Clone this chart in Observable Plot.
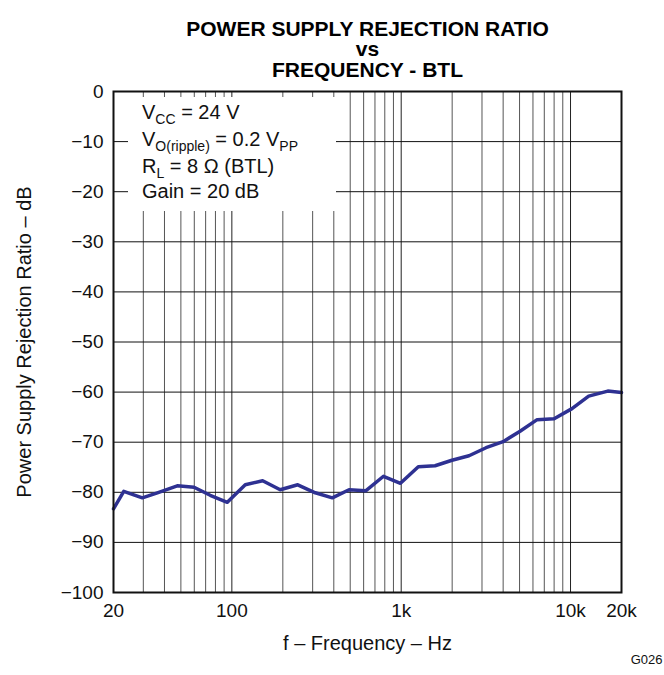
<!DOCTYPE html>
<html>
<head>
<meta charset="utf-8">
<script src="https://cdn.jsdelivr.net/npm/d3@7"></script>
<script src="https://cdn.jsdelivr.net/npm/@observablehq/plot@0.6"></script>
<style>
  body { margin: 0; background: #fff; }
  svg { display: block; }
</style>
</head>
<body>
<div id="chart"></div>
<script>
// ---- data ----
const freqHz = [20, 23, 29.6, 36.3, 47.6, 59.8, 74.5, 94, 120, 152, 193, 245, 311, 392, 492, 617, 786, 990,
  1262, 1585, 1995, 2515, 3170, 4000, 5035, 6350, 8000, 10200, 12800, 16600, 20000];
const psrrDb = [-83.3, -79.8, -81.1, -80.1, -78.7, -79.0, -80.6, -82.0, -78.5, -77.7, -79.5, -78.5, -80.1, -81.1, -79.5, -79.7, -76.8, -78.2,
  -74.9, -74.7, -73.6, -72.7, -71.1, -69.9, -67.8, -65.5, -65.3, -63.3, -60.8, -59.8, -60.1];

const xTickValues = [20, 100, 1000, 10000, 20000];
const xTickLabels = ["20", "100", "1k", "10k", "20k"];
const yTickValues = [0, -10, -20, -30, -40, -50, -60, -70, -80, -90, -100];
const yTickLabels = ["0", "\u221210", "\u221220", "\u221230", "\u221240", "\u221250", "\u221260", "\u221270", "\u221280", "\u221290", "\u2212100"];

const gridMinor = [30, 40, 50, 60, 70, 80, 90, 200, 300, 400, 500, 600, 700, 800, 900,
  2000, 3000, 4000, 5000, 6000, 7000, 8000, 9000];
const gridMajor = [100, 1000, 10000];
const gridY = [-10, -20, -30, -40, -50, -60, -70, -80, -90];

const titleLines = ["POWER SUPPLY REJECTION RATIO", "vs", "FREQUENCY - BTL"];
const xLabel = "f \u2013 Frequency \u2013 Hz";
const yLabel = "Power Supply Rejection Ratio \u2013 dB";
const figureId = "G026";
// legend lines: [text, isSubscript]
const legendLines = [
  [["V", false], ["CC", true], [" = 24 V", false]],
  [["V", false], ["O(ripple)", true], [" = 0.2 V", false], ["PP", true]],
  [["R", false], ["L", true], [" = 8 \u03A9 (BTL)", false]],
  [["Gain = 20 dB", false]]
];

const data = freqHz.map((f, i) => ({f, db: psrrDb[i]}));
const font = "'Liberation Sans', Arial, Helvetica, sans-serif";
const W = 664, H = 675;
const mL = 113, mR = 43, mT = 91, mB = 83;

const titleDy = [-70.7, -50.2, -29.2];

const svg = Plot.plot({
  width: W,
  height: H,
  marginLeft: mL,
  marginRight: mR,
  marginTop: mT,
  marginBottom: mB,
  style: {fontFamily: font, background: "#fff", color: "#000", overflow: "visible"},
  x: {type: "log", domain: [20, 20000], axis: null},
  y: {domain: [-100, 0], axis: null},
  marks: [
    Plot.ruleX(gridMinor, {x: d => d, stroke: "#555", strokeWidth: 1}),
    Plot.ruleX(gridMajor, {x: d => d, stroke: "#222", strokeWidth: 1}),
    Plot.ruleY(gridY, {y: d => d, stroke: "#111", strokeWidth: 1}),
    Plot.line(data, {x: "f", y: "db", stroke: "#2e3192", strokeWidth: 3.5, strokeLinejoin: "round", strokeLinecap: "round"}),
    Plot.frame({stroke: "#111", strokeWidth: 2}),
    Plot.text(xTickValues, {x: d => d, text: (d, i) => xTickLabels[i], frameAnchor: "bottom", dy: 24, fontSize: 19, fill: "#111"}),
    Plot.text(yTickValues, {y: d => d, text: (d, i) => yTickLabels[i], frameAnchor: "left", textAnchor: "end", dx: -10, fontSize: 19, fill: "#111"}),
    Plot.text([xLabel], {frameAnchor: "bottom", dy: 57, fontSize: 20, fill: "#111"}),
    Plot.text([yLabel], {frameAnchor: "left", textAnchor: "middle", dx: -89.4, rotate: -90, fontSize: 20, fill: "#111"}),
    ...titleLines.map((t, i) => Plot.text([t], {frameAnchor: "top", dy: titleDy[i], fontSize: 21, fontWeight: "bold", fill: "#000"})),
    Plot.text([figureId], {frameAnchor: "bottom-right", textAnchor: "end", dx: 41, dy: 71.8, fontSize: 13, fill: "#111"})
  ]
});

// legend box (white panel covering the grid) with multi-line text and subscripts
const g = d3.select(svg).append("g")
  .attr("font-family", font)
  .attr("text-anchor", "start")
  .attr("fill", "#111");
g.append("rect")
  .attr("x", mL + 15).attr("y", mT + 6)
  .attr("width", 208).attr("height", 114)
  .attr("fill", "#fff");
const baselines = [119, 146, 173, 198];
legendLines.forEach((parts, i) => {
  const t = g.append("text")
    .attr("x", mL + 29).attr("y", baselines[i])
    .attr("font-size", 20).attr("text-anchor", "start");
  parts.forEach(([txt, sub], j) => {
    const prevSub = j > 0 && parts[j - 1][1];
    let dy = 0;
    if (sub && !prevSub) dy = 5;
    else if (!sub && prevSub) dy = -5;
    const s = t.append("tspan").attr("dy", dy).text(txt);
    if (sub) s.attr("font-size", 14);
  });
});

document.getElementById("chart").appendChild(svg);
</script>
</body>
</html>
